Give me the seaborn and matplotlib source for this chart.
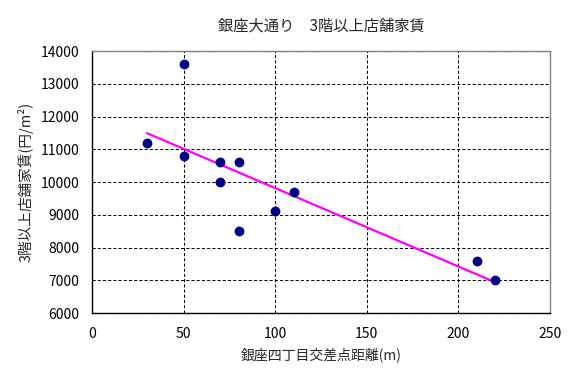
import numpy as np
import pandas as pd
import matplotlib
matplotlib.use('Agg')
import matplotlib.pyplot as plt
import seaborn as sns

# distance from Ginza 4-chome crossing (m) and rent of 3F+ shops (yen/m2)
distance = [30, 50, 50, 70, 70, 80, 80, 100, 110, 210, 220]
rent = [11200, 13600, 10800, 10600, 10000, 10600, 8500, 9100, 9700, 7600, 7000]

title = '銀座大通り　3階以上店舗家賃'
xlabel = '銀座四丁目交差点距離(m)'
ylabel = '3階以上店舗家賃(円/m²)'

sns.set_style('white')
plt.rcParams['font.family'] = ['Noto Sans CJK JP', 'DejaVu Sans']

df = pd.DataFrame({'x': distance, 'y': rent})

# linear trend over the data range
slope, intercept = np.polyfit(df['x'], df['y'], 1)
trend = pd.DataFrame({'x': [df['x'].min(), df['x'].max()]})
trend['y'] = slope * trend['x'] + intercept

fig = plt.figure(figsize=(5.77, 3.79), dpi=100)
ax = fig.add_axes([0.1594, 0.1741, 0.7938, 0.6913])

sns.lineplot(data=trend, x='x', y='y', ax=ax, color='#FF00FF', linewidth=1.6, zorder=2)
sns.scatterplot(data=df, x='x', y='y', ax=ax, color='#000080', s=50,
                edgecolor='#000080', linewidth=0, zorder=3)

ax.set_xlim(0, 250)
ax.set_ylim(6000, 14000)
ax.set_xticks(range(0, 251, 50))
ax.set_yticks(range(6000, 14001, 1000))
ax.grid(True, color='black', linestyle=(0, (3, 2)), linewidth=0.75)
ax.set_axisbelow(True)

for side in ['left', 'bottom']:
    ax.spines[side].set_color('black')
    ax.spines[side].set_linewidth(1.0)
for side in ['top', 'right']:
    ax.spines[side].set_color('#808080')
    ax.spines[side].set_linewidth(1.0)

ax.tick_params(direction='in', length=4, width=0.8, labelsize=10, colors='black')
ax.tick_params(axis='x', pad=10)
ax.tick_params(axis='y', pad=9)

ax.set_xlabel(xlabel, fontsize=10, labelpad=5)
ax.set_ylabel(ylabel, fontsize=10.5, labelpad=5)
ax.set_title(title, fontsize=11, pad=15)

fig.savefig('out.png', dpi=100, facecolor='white')
